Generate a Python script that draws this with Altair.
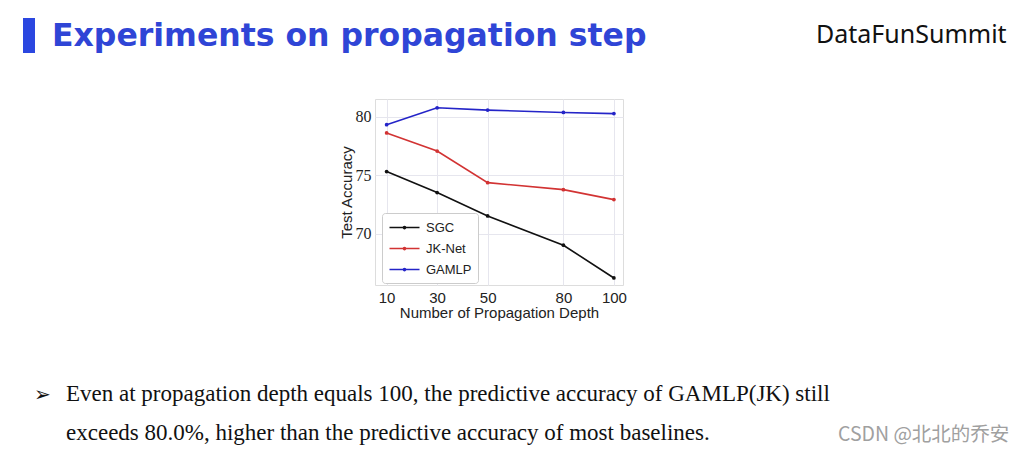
import altair as alt
import pandas as pd

# ---- data ----
depth = [10, 30, 50, 80, 100]
models = ["SGC", "JK-Net", "GAMLP"]
sgc = [75.3, 73.5, 71.5, 69.0, 66.2]
jknet = [78.6, 77.05, 74.35, 73.75, 72.9]
gamlp = [79.3, 80.75, 80.55, 80.35, 80.25]
colors = ["#111111", "#d23333", "#2424c8"]

slide_title = "Experiments on propagation step"
brand = "DataFunSummit"
bullet_line1 = "Even at propagation depth equals 100, the predictive accuracy of GAMLP(JK) still"
bullet_line2 = "exceeds 80.0%, higher than the predictive accuracy of most baselines."
watermark = "CSDN @北北的乔安"

rows = []
for name, vals in zip(models, [sgc, jknet, gamlp]):
    for d, v in zip(depth, vals):
        rows.append({"depth": d, "acc": v, "model": name})
df = pd.DataFrame(rows)

# plot origin on page: (375, 99); page margin 8
OX, OY = 375, 99
W, H = 248, 186

legend = alt.Legend(
    orient="none", legendX=7, legendY=114, title=None,
    symbolType="M-2,0L2,0M-0.15,0A0.15,0.15 0 1,1 0.15,0A0.15,0.15 0 1,1 -0.15,0",
    symbolSize=225, symbolStrokeWidth=1.5,
    labelFont="Liberation Sans", labelFontSize=13, labelColor="#222222",
    padding=6, rowPadding=5, labelOffset=13, symbolOffset=8,
    fillColor="white", strokeColor="#cccccc", cornerRadius=3,
)

lines = alt.Chart(df).mark_line(
    strokeWidth=1.6, point=alt.OverlayMarkDef(size=14, filled=True)
).encode(
    x=alt.X("depth:Q", scale=alt.Scale(domain=[5.4, 103.6], nice=False, zero=False),
            axis=alt.Axis(values=depth, title="Number of Propagation Depth",
                          labelFont="Liberation Sans", labelFontSize=15, labelColor="#222222",
                          titleFont="Liberation Sans", titleFontSize=15, titleFontWeight="normal",
                          titleColor="#222222", labelPadding=5, titlePadding=0,
                          ticks=False, domain=False, grid=True, gridColor="#e6e6ee")),
    y=alt.Y("acc:Q", scale=alt.Scale(domain=[65.6, 81.5], nice=False, zero=False),
            axis=alt.Axis(values=[70, 75, 80], title="Test Accuracy",
                          labelFont="Liberation Serif", labelFontSize=16, labelColor="#222222",
                          titleFont="Liberation Sans", titleFontSize=15, titleFontWeight="normal",
                          titleColor="#222222", labelPadding=4, titlePadding=1,
                          ticks=False, domain=False, grid=True, gridColor="#e6e6ee")),
    color=alt.Color("model:N", scale=alt.Scale(domain=models, range=colors), legend=legend),
)


def text_layer(txt, px, py, size, font, color, weight="normal", align="left", baseline="alphabetic"):
    return alt.Chart(pd.DataFrame({"t": [txt]})).mark_text(
        align=align, baseline=baseline, fontSize=size, font=font,
        color=color, fontWeight=weight,
    ).encode(text="t:N", x=alt.value(px - OX), y=alt.value(py - OY))


bar = alt.Chart(pd.DataFrame({"t": ["bar"]})).mark_rect(color="#2b47e0").encode(
    x=alt.value(23 - OX), x2=alt.value(35 - OX), y=alt.value(18 - OY), y2=alt.value(53 - OY)
)

layers = [
    lines,
    bar,
    text_layer(slide_title, 52, 46, 31.5, "DejaVu Sans", "#2f45d6", weight="bold"),
    text_layer(brand, 816, 43, 25, "Noto Sans", "#111111"),
    text_layer("➢", 34, 395, 20, "DejaVu Sans", "#111111", baseline="middle"),
    text_layer(bullet_line1, 66, 401, 23, "Liberation Serif", "#111111"),
    text_layer(bullet_line2, 66, 440, 23, "Liberation Serif", "#111111"),
    text_layer(watermark, 838, 441, 19.5, "Noto Sans CJK SC", "#a0a0a0"),
]

chart = alt.layer(*layers).properties(
    width=W, height=H,
    autosize=alt.AutoSizeParams(type="none"),
    padding={"left": OX - 8, "top": OY - 8, "right": 1008 - (OX - 8) - W, "bottom": 440 - (OY - 8) - H},
    background="white",
).configure_view(stroke="#dddddd", strokeWidth=1)

chart.save("out.html", embed_options={"renderer": "svg", "actions": False})
